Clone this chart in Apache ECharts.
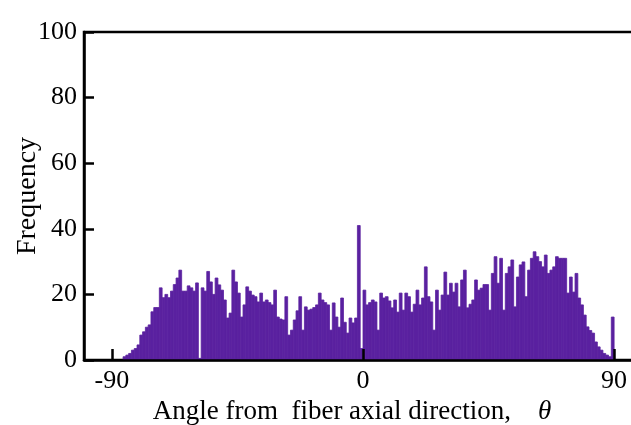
<!DOCTYPE html>
<html>
<head>
<meta charset="utf-8">
<script src="https://cdn.jsdelivr.net/npm/echarts@6/dist/echarts.min.js"></script>
<style>
  html, body { margin: 0; padding: 0; background: #fff; }
  #chart { width: 631px; height: 425px; }
</style>
</head>
<body>
<div id="chart"></div>
<script>
// Histogram of fiber orientation angles, 1-degree bins starting at binStart
const binStart = -86;
const binWidth = 1;
const counts = [
  1, 1.5, 2, 3, 3.5, 4.6, 7.6, 8.6, 10, 10.7,            // -86 .. -77
  14.7, 16, 16, 22, 19, 20, 19, 21, 23, 25,              // -76 .. -67
  27.4, 21, 21, 22.6, 22, 21, 23.5, 0.5, 22, 21,         // -66 .. -57
  27, 23.8, 20, 25, 22.9, 21.3, 18.3, 12.8, 14.3, 27.4,  // -56 .. -47
  23.8, 20.4, 13.1, 16.8, 22.3, 21, 19.8, 19.3, 17.7, 20.4, // -46 .. -37
  17.7, 18.3, 17.5, 16.8, 21.3, 13.1, 12.5, 12.2, 19.3, 7.6, // -36 .. -27
  9.1, 12.2, 15, 19.3, 9.1, 16.2, 15.2, 15.5, 16, 16.8,  // -26 .. -17
  20.4, 18.3, 17.5, 16.8, 9.1, 17.4, 13.1, 10, 18.9, 11.5, // -16 .. -7
  8.2, 12.8, 11.3, 12.8, 41, 3.5, 21.3, 16.8, 17.5, 18.3, // -6 .. 3
  17.7, 9.1, 20.4, 18.9, 19.3, 18, 15.9, 18.3, 14.6, 20.4, // 4 .. 13
  15.2, 20.4, 19.3, 14.6, 17, 21.3, 16.8, 18.9, 28.4, 19.3, // 14 .. 23
  17.7, 9.1, 21.3, 15.2, 19.8, 26.8, 19.8, 23.4, 20.7, 23.4, // 24 .. 33
  16.2, 24.4, 27.4, 15.9, 17, 18.3, 24.4, 21.3, 21.9, 23, // 34 .. 43
  23, 15.2, 26.4, 31.5, 23.4, 31, 15.2, 26.4, 28.4, 30.5, // 44 .. 53
  16.2, 25.3, 29, 29.9, 19.3, 27.4, 31, 33, 31.5, 30,    // 54 .. 63
  28.4, 32, 26.4, 27.4, 28.4, 31.5, 31, 31, 31, 20.4,    // 64 .. 73
  25.3, 20.7, 26.4, 18.9, 16.8, 13.7, 10.1, 9, 8.2, 5.5, // 74 .. 83
  4, 3, 2, 1.5, 1, 13.1                                  // 84 .. 89
];
const xTickValues = [-90, 0, 90];
const yTickValues = [0, 20, 40, 60, 80, 100];

const barColor = '#5a21a0';
const serif = "'Liberation Serif', 'Times New Roman', serif";

const histData = counts.map((c, i) => [binStart + i * binWidth, binStart + (i + 1) * binWidth, c]);

const chart = echarts.init(document.getElementById('chart'), null, { renderer: 'canvas' });
chart.setOption({
  animation: false,
  backgroundColor: '#fff',
  grid: {
    left: 84, top: 32, width: 558, height: 328,
    outerBoundsMode: 'none', containLabel: false,
    show: true, borderColor: '#000', borderWidth: 2.5, backgroundColor: 'transparent'
  },
  xAxis: {
    type: 'value', min: -100, max: 100, z: 10,
    name: '{t|Angle from  fiber axial direction,}{g|    }{th|θ}',
    nameLocation: 'middle', nameGap: 36,
    nameTextStyle: {
      padding: [0, 22, 0, 0],
      rich: {
        t: { fontFamily: serif, fontSize: 27, color: '#000' },
        g: { fontFamily: serif, fontSize: 27 },
        th: { fontFamily: serif, fontSize: 27, fontStyle: 'italic', color: '#000' }
      }
    },
    axisLine: { show: true, onZero: false, lineStyle: { color: '#000', width: 2.5 } },
    axisTick: { show: true, inside: true, length: 11, customValues: xTickValues, lineStyle: { color: '#000', width: 2.5 } },
    axisLabel: { customValues: xTickValues, margin: 8, fontFamily: serif, fontSize: 26, color: '#000' },
    splitLine: { show: false }
  },
  yAxis: {
    type: 'value', min: 0, max: 100, interval: 20, z: 10,
    name: 'Frequency', nameLocation: 'middle', nameGap: 42, nameRotate: 90,
    nameMoveOverlap: false,
    nameTextStyle: { fontFamily: serif, fontSize: 28, color: '#000' },
    axisLine: { show: true, onZero: false, lineStyle: { color: '#000', width: 2.5 } },
    axisTick: { show: true, inside: true, length: 10, lineStyle: { color: '#000', width: 2.5 } },
    axisLabel: { margin: 7, fontFamily: serif, fontSize: 26, color: '#000',
      formatter: v => (yTickValues.indexOf(v) >= 0 ? String(v) : '') },
    splitLine: { show: false }
  },
  series: [{
    type: 'custom',
    clip: true,
    encode: { x: [0, 1], y: 2 },
    data: histData,
    renderItem: (params, api) => {
      const top = api.coord([api.value(0), api.value(2)]);
      const base = api.coord([api.value(1), 0]);
      return {
        type: 'rect',
        shape: { x: top[0], y: top[1], width: base[0] - top[0], height: base[1] - top[1] },
        style: { fill: barColor, stroke: barColor, lineWidth: 0.8 }
      };
    }
  }]
});
</script>
</body>
</html>
